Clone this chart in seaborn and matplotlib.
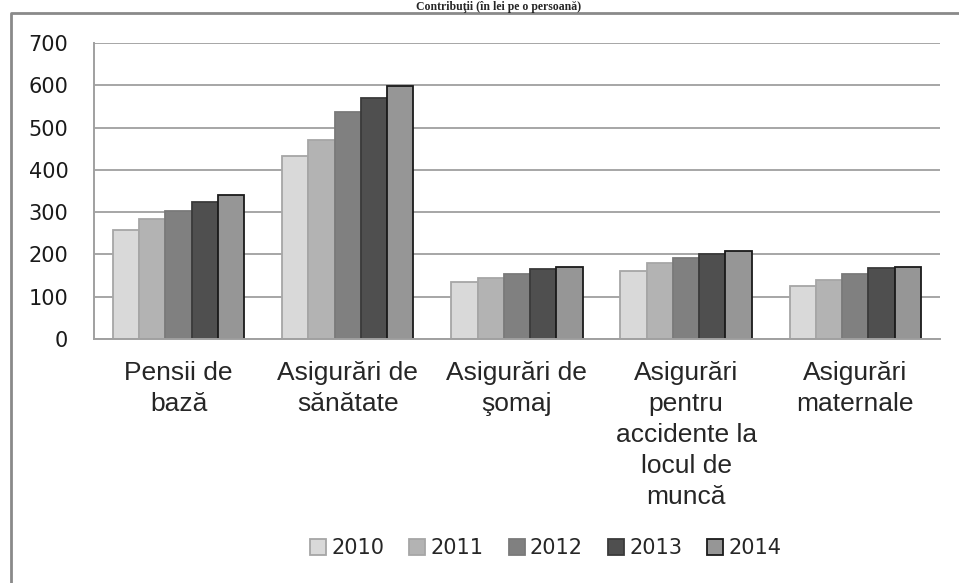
import numpy as np
import pandas as pd
import matplotlib
matplotlib.use("Agg")
import matplotlib.pyplot as plt
from matplotlib.lines import Line2D
import seaborn as sns

# data (lei / person)
categories = ["Pensii de\nbază", "Asigurări de\nsănătate", "Asigurări de\nşomaj",
              "Asigurări\npentru\naccidente la\nlocul de\nmuncă", "Asigurări\nmaternale"]
years = ["2010", "2011", "2012", "2013", "2014"]
v2010 = [259, 432, 135, 161, 126]
v2011 = [284, 472, 145, 179, 139]
v2012 = [302, 536, 154, 191, 154]
v2013 = [324, 570, 166, 201, 167]
v2014 = [341, 598, 171, 208, 171]

fills = ["#d9d9d9", "#b3b3b3", "#808080", "#4f4f4f", "#969696"]
edges = ["#a6a6a6", "#a6a6a6", "#7a7a7a", "#3a3a3a", "#1a1a1a"]

rows = []
for yr, vals in zip(years, [v2010, v2011, v2012, v2013, v2014]):
    for cat, v in zip(categories, vals):
        rows.append({"cat": cat, "year": yr, "val": v})
df = pd.DataFrame(rows)

sns.set_style("white")
fig = plt.figure(figsize=(9.59, 5.83), dpi=100)
ax = fig.add_axes([0.098, 0.4185, 0.882, 0.5075])

sns.barplot(data=df, x="cat", y="val", hue="year", order=categories, hue_order=years,
            palette=fills, saturation=1, width=0.776, legend=False, ax=ax)

for cont, ec in zip(ax.containers, edges):
    for p in cont.patches:
        p.set_edgecolor(ec)
        p.set_linewidth(1.3)

ax.set_ylim(0, 700)
ax.set_yticks(np.arange(0, 701, 100))
ax.set_xlim(-0.5, 4.5)
ax.set_axisbelow(True)
ax.yaxis.grid(True, color="#a6a6a6", lw=1.4)
ax.xaxis.grid(False)
ax.set_xlabel("")
ax.set_ylabel("")

for s in ["top", "right"]:
    ax.spines[s].set_visible(False)
for s in ["left", "bottom"]:
    ax.spines[s].set_color("#a0a0a0")
    ax.spines[s].set_linewidth(1.4)

ax.set_xticks(np.arange(5))
ax.set_xticklabels(categories, fontfamily="Liberation Sans", fontsize=19,
                   linespacing=1.38, ha="center", va="top")
ax.set_xticks(np.arange(0.5, 5, 1), minor=True)
ax.tick_params(axis="x", which="major", length=0, pad=15.5)
ax.tick_params(axis="x", which="minor", length=6, width=1.4, color="#a0a0a0", direction="out")
ax.tick_params(axis="y", length=6.5, width=1.4, color="#a0a0a0", direction="out",
               pad=12, labelsize=15)
for t in ax.get_yticklabels():
    t.set_fontfamily("DejaVu Sans")
    t.set_color("#1a1a1a")

handles = [plt.Rectangle((0, 0), 1, 1, facecolor=f, edgecolor=e, lw=1.3)
           for f, e in zip(fills, edges)]
fig.legend(handles, years, loc="center", bbox_to_anchor=(0.569, 0.06), ncol=5,
           frameon=False, prop={"family": "DejaVu Sans", "size": 15},
           handlelength=0.77, handleheight=0.77, handletextpad=0.25, columnspacing=1.2)

# outer chart frame (cut at right and bottom)
fig.add_artist(Line2D([11 / 959, 11 / 959, 1.0], [0.0, 1 - 13 / 583, 1 - 13 / 583],
                      transform=fig.transFigure, color="#8a8a8a", lw=2.0))

# title squeezed above the frame
fig.text(0.52, 1 - 10 / 583, "Contribuţii (în lei pe o persoană)", ha="center",
         va="baseline", fontfamily="Liberation Serif", fontweight="bold", fontsize=8.5)

fig.savefig("out.png", dpi=100)
